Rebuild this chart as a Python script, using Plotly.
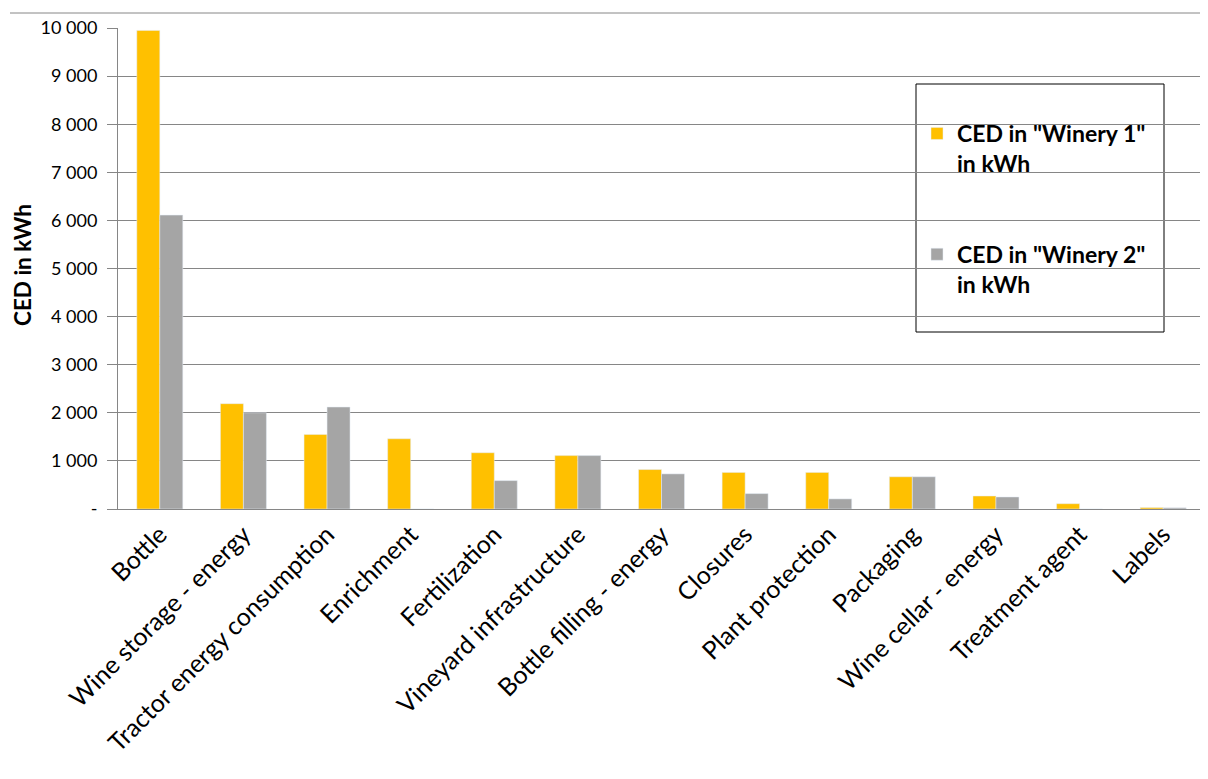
import plotly.graph_objects as go

categories = ["Bottle", "Wine storage - energy", "Tractor energy consumption", "Enrichment",
              "Fertilization", "Vineyard infrastructure", "Bottle filling - energy", "Closures",
              "Plant protection", "Packaging", "Wine cellar - energy", "Treatment agent", "Labels"]
winery1 = [9950, 2190, 1550, 1460, 1170, 1110, 820, 760, 760, 670, 270, 110, 30]
winery2 = [6110, 2000, 2120, 0, 590, 1110, 730, 320, 210, 670, 250, 0, 25]
name1 = 'CED in "Winery 1"<br>in kWh'
name2 = 'CED in "Winery 2"<br>in kWh'
tick_vals = [0, 1000, 2000, 3000, 4000, 5000, 6000, 7000, 8000, 9000, 10000]
tick_text = ["-", "1 000", "2 000", "3 000", "4 000", "5 000", "6 000", "7 000", "8 000", "9 000", "10 000"]

FONT = "Lato"
W, H = 1200, 771
L, R, T, B = 110, 3, 20, 270
PW, PH = W - L - R, H - T - B


def px(x):
    return (x - 8 - L) / PW


def py(y):
    return (T + PH - (y - 8)) / PH


fig = go.Figure()
fig.add_trace(go.Bar(x=categories, y=winery1, name=name1, marker_color="#FFC000", legendgroup="a"))
fig.add_trace(go.Bar(x=categories, y=winery2, name=name2, marker_color="#A5A5A5", legendgroup="b"))

fig.update_layout(
    width=W, height=H,
    margin=dict(l=L, r=R, t=T, b=B),
    paper_bgcolor="white", plot_bgcolor="white",
    barmode="group", bargap=0.45, bargroupgap=0,
    font=dict(family=FONT, size=19, color="black"),
    showlegend=True,
    legend=dict(x=px(917), y=py(112), xanchor="left", yanchor="top",
                bgcolor="rgba(0,0,0,0)", borderwidth=0, valign="top",
                font=dict(family=FONT, size=23, color="black", weight="bold"),
                tracegroupgap=58, itemwidth=30),
    xaxis=dict(tickangle=-45, tickfont=dict(size=25), showline=True, linecolor="#868686",
               linewidth=1, ticks="", showgrid=False),
    yaxis=dict(range=[0, 10000], tickvals=tick_vals, ticktext=tick_text,
               showgrid=True, gridcolor="#868686", gridwidth=1,
               showline=True, linecolor="#868686", linewidth=1,
               ticks="outside", ticklen=10, tickcolor="#868686",
               ticklabelstandoff=6,
               tickfont=dict(size=18)),
)
fig.add_annotation(text="CED in kWh", xref="paper", yref="paper", x=px(22), y=py(265),
                   textangle=-90, showarrow=False, xanchor="center", yanchor="middle",
                   font=dict(family=FONT, size=22.5, weight="bold", color="black"))
# legend frame
fig.add_shape(type="rect", xref="paper", yref="paper",
              x0=px(916), x1=px(1164), y0=py(332), y1=py(84),
              line=dict(color="black", width=1), fillcolor="white", layer="below")
# chart outer border top
fig.add_shape(type="line", xref="paper", yref="paper",
              x0=px(10), x1=px(1207), y0=py(13), y1=py(13),
              line=dict(color="#868686", width=1))

fig.write_html("out.html")
